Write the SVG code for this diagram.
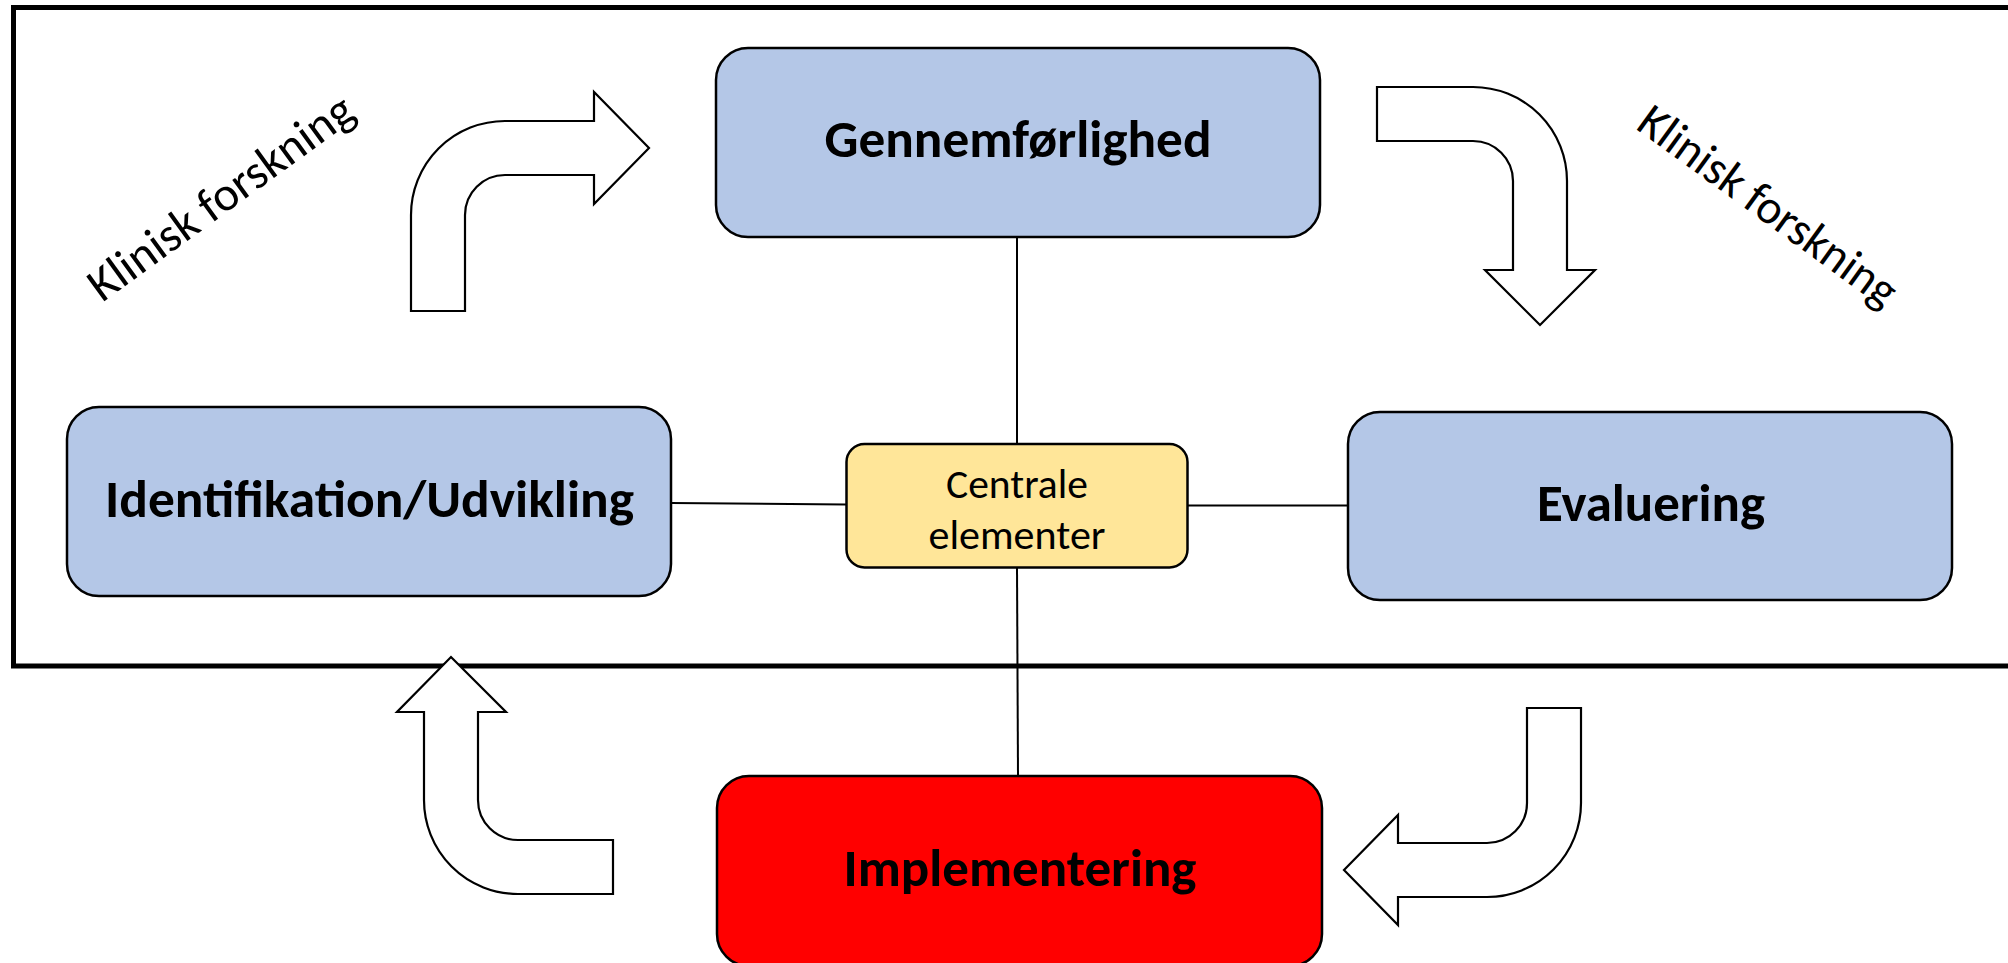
<svg xmlns="http://www.w3.org/2000/svg" width="2008" height="963" viewBox="0 0 2008 963">
<defs>
<style>
.frame{fill:none;stroke:#000;stroke-width:5}
.box{stroke:#000;stroke-width:2.5}
.blue{fill:#B4C7E7}
.yellow{fill:#FFE699}
.red{fill:#FF0000}
.big{font-family:Carlito,Lato,"Liberation Sans",sans-serif;font-weight:bold;font-size:53px;fill:#000;text-anchor:middle}
.mid{font-family:Carlito,Lato,"Liberation Sans",sans-serif;font-size:42px;fill:#000;text-anchor:middle}
.side{font-family:Carlito,Lato,"Liberation Sans",sans-serif;font-size:48px;fill:#000}
.arrow{fill:#fff;stroke:#000;stroke-width:2.2;stroke-linejoin:miter}
.conn{stroke:#000;stroke-width:2;fill:none}
</style>
</defs>
<rect width="2008" height="963" fill="#fff"/>
<rect class="frame" x="13.5" y="7.5" width="2020" height="658.5"/>

<g id="connectors">
<line class="conn" x1="1017" y1="237" x2="1017" y2="444"/>
<line class="conn" x1="671" y1="503" x2="846" y2="504.5"/>
<line class="conn" x1="1187" y1="505.5" x2="1348" y2="505.5"/>
<line class="conn" x1="1017" y1="568" x2="1018" y2="776"/>
</g>

<g id="arrows">
<path id="arrow-top-left" class="arrow" d="M411 311 L411 215 A94 94 0 0 1 505 121 L594 121 L594 92 L649 148 L594 204 L594 175 L505 175 A40 40 0 0 0 465 215 L465 311 Z"/>
<path id="arrow-top-right" class="arrow" d="M1377 87 L1473 87 A94 94 0 0 1 1567 181 L1567 270 L1595 270 L1540 325 L1485 270 L1513 270 L1513 181 A40 40 0 0 0 1473 141 L1377 141 Z"/>
<path id="arrow-bottom-right" class="arrow" d="M1527 708 L1581 708 L1581 803 A94 94 0 0 1 1487 897 L1398 897 L1398 925 L1344 870 L1398 815 L1398 843 L1487 843 A40 40 0 0 0 1527 803 Z"/>
<path id="arrow-bottom-left" class="arrow" d="M613 840 L518 840 A40 40 0 0 1 478 800 L478 712 L506 712 L451 657 L397 712 L424 712 L424 800 A94 94 0 0 0 518 894 L613 894 Z"/>
</g>

<g id="node-gennemfoerlighed">
<rect class="box blue" x="716" y="48" width="604" height="189" rx="32" ry="32"/>
<text class="big" x="1018" y="157" textLength="387" lengthAdjust="spacingAndGlyphs">Gennemførlighed</text>
</g>

<g id="node-identifikation">
<rect class="box blue" x="67" y="407" width="604" height="189" rx="32" ry="32"/>
<text class="big" x="369.5" y="517" textLength="529" lengthAdjust="spacingAndGlyphs">Identifikation/Udvikling</text>
</g>

<g id="node-evaluering">
<rect class="box blue" x="1348" y="412" width="604" height="188" rx="32" ry="32"/>
<text class="big" x="1651" y="521" textLength="228" lengthAdjust="spacingAndGlyphs">Evaluering</text>
</g>

<g id="node-implementering">
<rect class="box red" x="717" y="776" width="605" height="190" rx="32" ry="32"/>
<text class="big" x="1020" y="886" textLength="353" lengthAdjust="spacingAndGlyphs">Implementering</text>
</g>

<g id="node-centrale">
<rect class="box yellow" x="846.5" y="444" width="341" height="123.5" rx="18" ry="18"/>
<text class="mid" x="1017" y="498" textLength="142" lengthAdjust="spacingAndGlyphs">Centrale</text>
<text class="mid" x="1017" y="549" textLength="177" lengthAdjust="spacingAndGlyphs">elementer</text>
</g>

<g id="label-left">
<text class="side" transform="translate(102,303) rotate(-36)" textLength="316" lengthAdjust="spacingAndGlyphs">Klinisk forskning</text>
</g>
<g id="label-right">
<text class="side" transform="translate(1634.5,128) rotate(36)" textLength="308" lengthAdjust="spacingAndGlyphs">Klinisk forskning</text>
</g>
</svg>
